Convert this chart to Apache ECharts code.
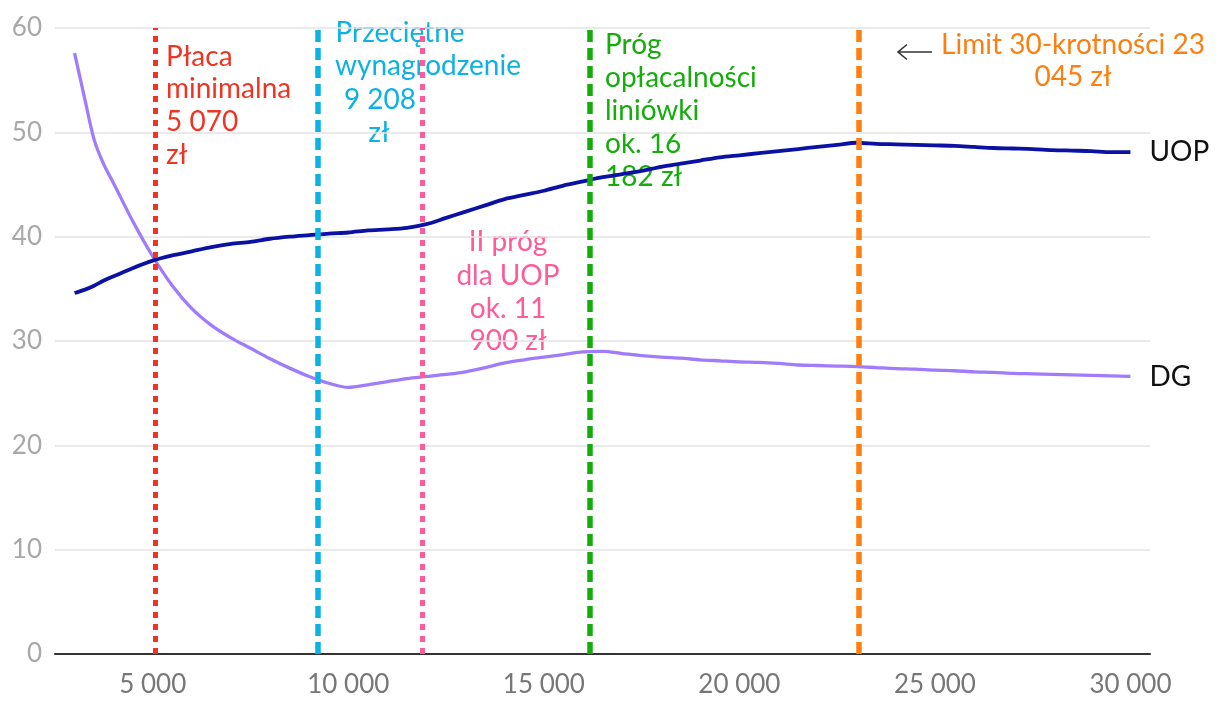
<!DOCTYPE html>
<html>
<head>
<meta charset="utf-8">
<script src="https://cdn.jsdelivr.net/npm/echarts@6/dist/echarts.min.js"></script>
<style>
html,body{margin:0;padding:0;background:#fff;}
#chart{width:1220px;height:710px;}
</style>
</head>
<body>
<div id="chart"></div>
<script>
// ---- data ----
var income = [3000,3250,3500,3750,4000,4500,5000,5500,6000,6500,7000,7500,8000,8500,9000,9500,10000,10500,11000,11500,12000,12500,13000,13500,14000,14500,15000,15500,16000,16500,17000,17500,18000,18500,19000,19500,20000,20500,21000,21500,22000,22500,23000,23500,24000,24500,25000,25500,26000,26500,27000,27500,28000,28500,29000,29500,30000];
var uop = [34.6,34.9,35.3,35.8,36.2,37.0,37.7,38.2,38.6,39.0,39.3,39.5,39.8,40.0,40.15,40.3,40.4,40.6,40.7,40.85,41.2,41.8,42.4,43.0,43.6,44.0,44.4,44.9,45.3,45.7,46.0,46.3,46.7,47.0,47.3,47.6,47.8,48.0,48.2,48.4,48.6,48.8,49.0,48.9,48.85,48.8,48.75,48.7,48.6,48.5,48.45,48.4,48.3,48.25,48.2,48.1,48.1];
var dg = [57.6,53.4,49.3,46.9,45.1,41.4,38.1,35.3,33.1,31.5,30.3,29.3,28.3,27.4,26.6,25.95,25.55,25.8,26.1,26.4,26.6,26.8,27.05,27.45,27.9,28.2,28.45,28.7,28.95,29.0,28.8,28.6,28.45,28.35,28.2,28.1,28.0,27.95,27.85,27.7,27.65,27.6,27.55,27.45,27.35,27.3,27.2,27.15,27.05,27.0,26.9,26.85,26.8,26.75,26.7,26.65,26.6];
var seriesNames = ['UOP','DG'];
var refValues = [5070, 9208, 11900, 16182, 23045];
var yTicks = [0,10,20,30,40,50,60];
var xTicks = [5000,10000,15000,20000,25000,30000];

var textRed = ['Płaca','minimalna','5 070','zł'];
var textBlue = ['Przeciętne','wynagrodzenie','9 208','zł'];
var textPink = ['II próg','dla UOP','ok. 11','900 zł'];
var textGreen = ['Próg','opłacalności','liniówki','ok. 16','182 zł'];
var textOrange = ['Limit 30-krotności 23','045 zł'];

// ---- styling ----
var FONT = 'Lato, "Noto Sans", sans-serif';
var cRed = '#ee3524', cBlue = '#0db2e3', cPink = '#fd5b9a', cGreen = '#15ad0c', cOrange = '#fd7f0f';
var refStyles = [
  {color:cRed, type:[6,6], width:5},
  {color:cBlue, type:[12,6], width:5.5},
  {color:cPink, type:[6,6], width:5},
  {color:cGreen, type:[12,6], width:5.5},
  {color:cOrange, type:[12,6], width:5.5}
];

function pairs(xs, ys){ return xs.map(function(x,i){return [x, ys[i]];}); }
function fmt(v){ return String(v).replace(/\B(?=(\d{3})+(?!\d))/g, ' '); }

var markData = refValues.map(function(v,i){
  return {xAxis: v, lineStyle: refStyles[i]};
});

function txt(s, x, y, color, align){
  return {type:'text', silent:true, z:0, style:{text:s, x:x, y:y, fill:color, font:'28px ' + FONT, align:align||'left', verticalAlign:'middle'}};
}

var graphics = [];
[57,89,122,155].forEach(function(y,i){ graphics.push(txt(textRed[i],166,y,cRed,'left')); });
var blueX = [400,428,380,379], blueY = [33,66,100,133];
textBlue.forEach(function(s,i){ graphics.push(txt(s,blueX[i],blueY[i],cBlue,'center')); });
[242,276,309,341].forEach(function(y,i){ graphics.push(txt(textPink[i],508,y,cPink,'center')); });
[45,78,111,144,177].forEach(function(y,i){ graphics.push(txt(textGreen[i],605,y,cGreen,'left')); });
[45,77].forEach(function(y,i){ graphics.push(txt(textOrange[i],1073,y,cOrange,'center')); });
graphics.push({type:'line', silent:true, z:0, shape:{x1:932,y1:52,x2:898,y2:52}, style:{stroke:'#333',lineWidth:1.6}});
graphics.push({type:'polyline', silent:true, z:0, shape:{points:[[907,44.5],[898,52],[907,59.5]]}, style:{stroke:'#333',lineWidth:1.6,fill:null}});

var chart = echarts.init(document.getElementById('chart'), null, {renderer:'canvas'});
chart.setOption({
  animation:false,
  backgroundColor:'#fff',
  grid:{left:55, right:70, top:28, bottom:56, containLabel:false},
  xAxis:{
    type:'value', min:2500, max:30500, interval:2500,
    axisLine:{show:true, onZero:false, lineStyle:{color:'#333', width:2}},
    axisTick:{show:false},
    splitLine:{show:false},
    axisLabel:{
      color:'#777', fontSize:26, fontFamily:FONT, margin:18,
      showMinLabel:false, showMaxLabel:false,
      formatter:function(v){ return xTicks.indexOf(v) >= 0 ? fmt(v) : ''; }
    }
  },
  yAxis:{
    type:'value', min:yTicks[0], max:yTicks[yTicks.length-1], interval:10,
    axisLine:{show:false}, axisTick:{show:false},
    splitLine:{lineStyle:{color:'#e3e3e3', width:1.5}},
    axisLabel:{color:'#a8a8a8', fontSize:26, fontFamily:FONT, margin:13}
  },
  series:[
    {
      name:seriesNames[0], type:'line', data:pairs(income, uop), smooth:0.3, symbol:'none',
      lineStyle:{color:'#0b12a3', width:3.8}, z:4,
      endLabel:{show:true, formatter:'{a}', color:'#111', fontSize:28, fontFamily:FONT, distance:19}
    },
    {
      name:seriesNames[1], type:'line', data:pairs(income, dg), smooth:0.3, symbol:'none',
      lineStyle:{color:'#a07cfc', width:3.3}, z:3,
      endLabel:{show:true, formatter:'{a}', color:'#111', fontSize:28, fontFamily:FONT, distance:19},
      markLine:{silent:true, symbol:'none', label:{show:false}, data:markData, z:5}
    }
  ],
  graphic:{elements:graphics}
});
</script>
</body>
</html>
